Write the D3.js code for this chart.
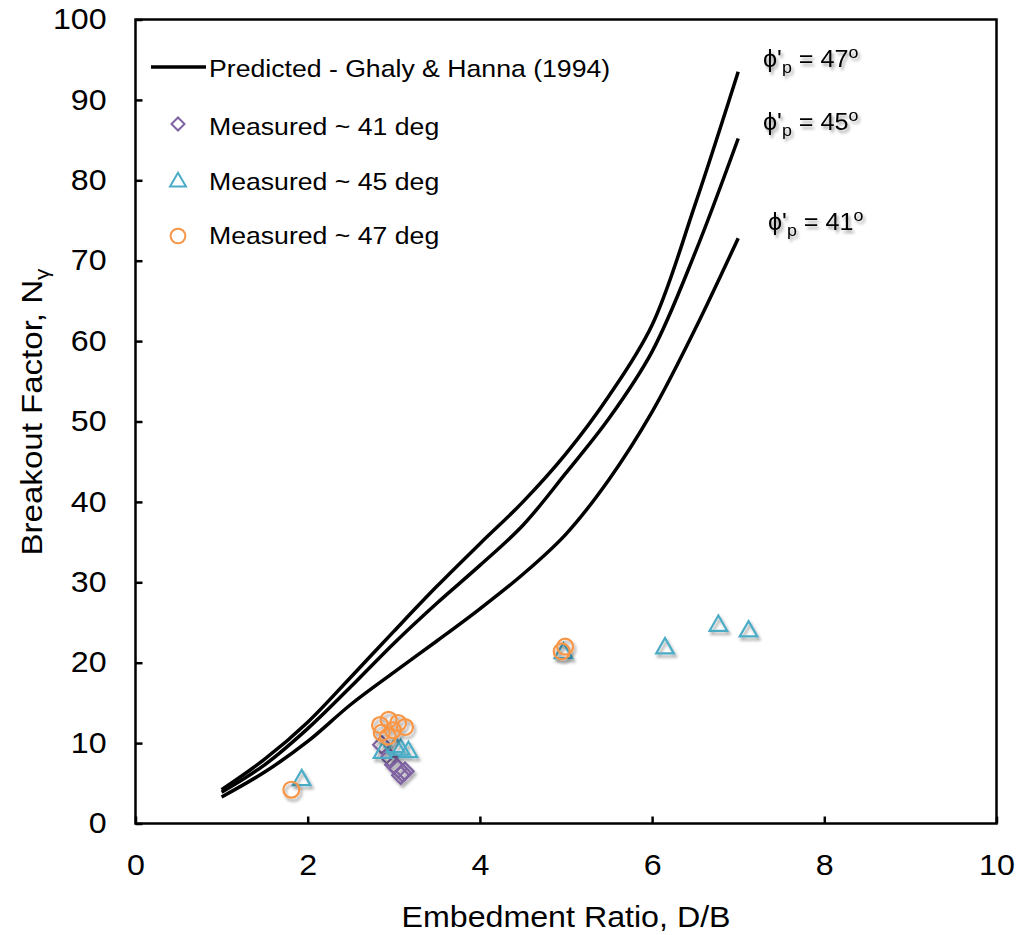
<!DOCTYPE html>
<html>
<head>
<meta charset="utf-8">
<script src="https://cdn.jsdelivr.net/npm/d3@7"></script>
<style>
  body { margin: 0; background: #fff; }
  text { font-family: "Liberation Sans", Arial, sans-serif; fill: #000; }
</style>
</head>
<body>
<div id="canvas"></div>
<script>
// chart size
var w = 1022;
var h = 935;
var margin = {top: 19.5, right: 25.5, bottom: 111.5, left: 135.5};
var stretch = 1.11; // text in the original is a bit wide

// predicted curves (Ghaly & Hanna 1994)
const dbRatio = [1, 1.5, 2, 2.5, 3, 3.5, 4, 4.5, 5, 5.5, 6, 6.5, 7];
const pred47 = [4.2, 8.0, 12.6, 18.2, 23.9, 29.5, 34.8, 40.0, 46.0, 53.2, 62.0, 77.0, 93.5];
const pred45 = [3.9, 7.3, 11.8, 17.0, 22.4, 27.4, 32.1, 37.1, 43.6, 50.4, 58.7, 71.0, 85.2];
const pred41 = [3.3, 6.4, 10.2, 14.8, 18.8, 22.7, 26.7, 31.0, 36.0, 42.8, 51.2, 61.5, 72.8];
const predLabels = ["47", "45", "41"];

// measured points
const m41x = [2.86, 2.95, 3.00, 3.05, 3.10, 3.08, 3.13];
const m41y = [9.8, 8.2, 7.3, 6.8, 6.3, 6.0, 6.5];
const m45x = [1.93, 2.87, 3.02, 3.08, 3.17, 4.97, 6.15, 6.77, 7.12];
const m45y = [5.4, 8.8, 9.5, 9.2, 8.9, 21.2, 21.8, 24.6, 23.9];
const m47x = [1.81, 2.84, 2.94, 3.05, 3.13, 2.86, 2.93, 2.99, 4.95, 4.99];
const m47y = [4.2, 12.25, 12.9, 12.5, 12.0, 11.3, 10.8, 11.6, 21.4, 22.0];

const legendLabels = ["Predicted - Ghaly & Hanna (1994)", "Measured ~ 41 deg", "Measured ~ 45 deg", "Measured ~ 47 deg"];
const xTicks = [0, 2, 4, 6, 8, 10];
const yTicks = [0, 10, 20, 30, 40, 50, 60, 70, 80, 90, 100];

var colors = {d41: "#8064A2", d45: "#4BACC6", d47: "#F79646"};

var svg = d3.select("#canvas")
    .append("svg")
    .attr("width", w)
    .attr("height", h)
    .style("background-color", "white");

// drop shadow used by the markers and the phi labels
var defs = svg.append("defs");
defs.append("filter")
    .attr("id", "shadow")
    .attr("x", "-50%").attr("y", "-50%")
    .attr("width", "200%").attr("height", "200%")
  .append("feDropShadow")
    .attr("dx", 2).attr("dy", 3)
    .attr("stdDeviation", 1.6)
    .attr("flood-color", "#000")
    .attr("flood-opacity", 0.35);

let x_scale = d3.scaleLinear()
    .domain([0, 10])
    .range([margin.left, w - margin.right]);

let y_scale = d3.scaleLinear()
    .domain([0, 100])
    .range([h - margin.bottom, margin.top]);

// axes, ticks pointing inward
var xAxis = svg.append("g")
    .attr("transform", `translate(0,${h - margin.bottom})`)
    .call(d3.axisBottom(x_scale).tickValues(xTicks).tickSizeInner(-7).tickSizeOuter(0).tickPadding(31));
var yAxis = svg.append("g")
    .attr("transform", `translate(${margin.left},0)`)
    .call(d3.axisLeft(y_scale).tickValues(yTicks).tickSizeInner(-7).tickSizeOuter(0).tickPadding(26));

[xAxis, yAxis].forEach(function(a) {
    a.select(".domain").remove();
    a.selectAll(".tick line").attr("stroke", "#000").attr("stroke-width", 2.5);
    a.selectAll(".tick text")
        .attr("font-size", 29)
        .style("font-family", '"Liberation Sans", Arial, sans-serif')
        .attr("fill", "#000");
});
yAxis.selectAll(".tick text").attr("transform", `scale(${stretch},1)`);
xAxis.selectAll(".tick text").attr("transform", `scale(${stretch},1)`).attr("dy", "0.71em");

// plot frame
svg.append("rect")
    .attr("x", margin.left)
    .attr("y", margin.top)
    .attr("width", w - margin.left - margin.right)
    .attr("height", h - margin.top - margin.bottom)
    .attr("fill", "none")
    .attr("stroke", "#000")
    .attr("stroke-width", 2.5);

// axis titles
svg.append("g")
    .attr("transform", `translate(${(margin.left + w - margin.right) / 2},927) scale(${stretch},1)`)
  .append("text")
    .attr("text-anchor", "middle")
    .attr("font-size", 29)
    .text("Embedment Ratio, D/B");

var yTitle = svg.append("g")
    .attr("transform", `translate(42,412) rotate(-90) scale(1.14,1)`)
  .append("text")
    .attr("text-anchor", "middle")
    .attr("font-size", 29);
yTitle.append("tspan").text("Breakout Factor, N");
yTitle.append("tspan").attr("font-size", 20).attr("dy", 7).text("γ");

// predicted lines
var line = d3.line()
    .x((d, i) => x_scale(dbRatio[i]))
    .y(d => y_scale(d))
    .curve(d3.curveCatmullRom.alpha(0.5));

svg.selectAll(".pred")
    .data([pred47, pred45, pred41])
    .join("path")
    .attr("class", "pred")
    .attr("d", line)
    .attr("fill", "none")
    .attr("stroke", "#000")
    .attr("stroke-width", 3.5);

// phi labels near the line ends
var phiPos = [[763, 67], [763, 130], [768, 230]];
predLabels.forEach(function(lab, i) {
    var t = svg.append("g")
        .attr("transform", `translate(${phiPos[i][0]},${phiPos[i][1]}) scale(1.05,1)`)
        .attr("filter", "url(#shadow)")
      .append("text")
        .attr("font-size", 24);
    t.append("tspan").text("ϕ'");
    t.append("tspan").attr("font-size", 17).attr("dy", 6).text("p");
    t.append("tspan").attr("dy", -6).text(" = " + lab);
    t.append("tspan").attr("font-size", 17).attr("dy", -9).text("o");
});

// measured markers
var diamond = d3.symbol().type(d3.symbolSquare).size(150);
var triangle = d3.symbol().type(d3.symbolTriangle).size(135);
var circle = d3.symbol().type(d3.symbolCircle).size(200);

function drawPoints(xs, ys, sym, color, rot) {
    svg.append("g")
        .attr("filter", "url(#shadow)")
        .selectAll("path")
        .data(xs)
        .join("path")
        .attr("d", sym)
        .attr("transform", (d, i) => `translate(${x_scale(d)},${y_scale(ys[i])}) rotate(${rot})`)
        .attr("fill", "none")
        .attr("stroke", color)
        .attr("stroke-width", 2.2);
}
drawPoints(m41x, m41y, diamond, colors.d41, 45);
drawPoints(m45x, m45y, triangle, colors.d45, 0);
drawPoints(m47x, m47y, circle, colors.d47, 0);

// legend
var legend = svg.append("g");
legend.append("line")
    .attr("x1", 151).attr("x2", 206)
    .attr("y1", 67).attr("y2", 67)
    .attr("stroke", "#000")
    .attr("stroke-width", 3.5);

var legSyms = [
    {sym: d3.symbol().type(d3.symbolSquare).size(85), color: colors.d41, rot: 45, y: 124},
    {sym: d3.symbol().type(d3.symbolTriangle).size(110), color: colors.d45, rot: 0, y: 182},
    {sym: d3.symbol().type(d3.symbolCircle).size(170), color: colors.d47, rot: 0, y: 236}
];
legSyms.forEach(function(s) {
    legend.append("path")
        .attr("d", s.sym)
        .attr("transform", `translate(178,${s.y}) rotate(${s.rot})`)
        .attr("fill", "none")
        .attr("stroke", s.color)
        .attr("stroke-width", 2);
});

var legBase = [77, 135, 190, 244];
legendLabels.forEach(function(lab, i) {
    legend.append("g")
        .attr("transform", `translate(209,${legBase[i]}) scale(${stretch},1)`)
      .append("text")
        .attr("font-size", 24)
        .text(lab);
});
</script>
</body>
</html>
